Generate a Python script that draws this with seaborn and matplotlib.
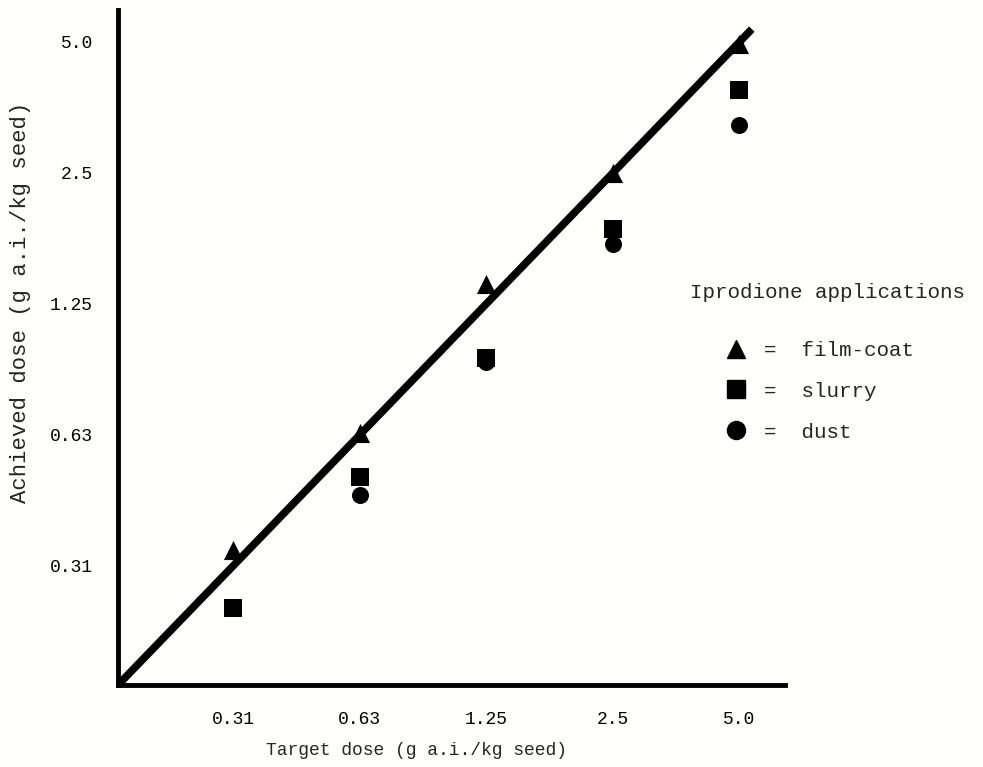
import numpy as np
import pandas as pd
import matplotlib
matplotlib.use('Agg')
import matplotlib.pyplot as plt
from matplotlib.lines import Line2D
from matplotlib.ticker import FixedLocator, NullLocator
import seaborn as sns

# data (g a.i./kg seed)
target = [0.3125, 0.625, 1.25, 2.5, 5.0]
film_coat = [0.34, 0.63, 1.39, 2.5, 4.95]
slurry = [0.25, 0.50, 0.94, 1.86, 3.88]
dust = [np.nan, 0.454, 0.92, 1.72, 3.22]
methods = ['film-coat', 'slurry', 'dust']
tick_labels = ['0.31', '0.63', '1.25', '2.5', '5.0']
# 1:1 line
line_x = [0.1665, 5.35]
line_y = [0.1665, 5.35]

df = pd.DataFrame({
    'target': target * 3,
    'achieved': film_coat + slurry + dust,
    'method': sum([[m] * len(target) for m in methods], []),
}).dropna()

sns.set_style('white')
plt.rcParams['font.family'] = ['Liberation Mono', 'DejaVu Sans']

fig = plt.figure(figsize=(9.83, 7.67), dpi=100, facecolor='#fffffd')
ax = fig.add_axes([0.12, 0.107, 0.679, 0.88])
ax.set_facecolor('#fffffd')

markers = {'film-coat': '^', 'slurry': 's', 'dust': 'o'}
sizes = {'film-coat': 190, 'slurry': 170, 'dust': 150}
for m in methods:
    sub = df[df['method'] == m]
    sns.scatterplot(data=sub, x='target', y='achieved', marker=markers[m],
                    s=sizes[m], color='black', edgecolor='black', linewidth=0,
                    ax=ax, legend=False, zorder=2)
sns.lineplot(x=line_x, y=line_y, color='black', linewidth=5.5, ax=ax,
             zorder=3, solid_capstyle='butt')

ax.set_xscale('log', base=2)
ax.set_yscale('log', base=2)
ax.set_xlim(0.1664, 6.43)
ax.set_ylim(0.1665, 5.92)
for axis in (ax.xaxis, ax.yaxis):
    axis.set_major_locator(FixedLocator(target))
    axis.set_minor_locator(NullLocator())
ax.set_xticklabels(tick_labels)
ax.set_yticklabels(tick_labels)
ax.tick_params(direction='in', length=8, width=3, labelsize=13, pad=19,
               colors='black')
ax.tick_params(axis='y', pad=18)

for s in ['top', 'right']:
    ax.spines[s].set_visible(False)
for s in ['left', 'bottom']:
    ax.spines[s].set_linewidth(3.5)
    ax.spines[s].set_color('black')

ax.set_xlabel('Target dose (g a.i./kg seed)', fontsize=13)
ax.xaxis.set_label_coords(0.448, -0.085)
ax.set_ylabel('Achieved dose (g a.i./kg seed)', fontsize=16)
ax.yaxis.set_label_coords(-0.13, 0.567)

fig.text(0.702, 0.618, 'Iprodione applications', fontsize=15, va='center')
handles = [Line2D([], [], marker=markers[m], color='black', linestyle='none',
                  markersize=13) for m in methods]
fig.legend(handles, ['=  ' + m for m in methods], loc='upper left',
           bbox_to_anchor=(0.719, 0.58), frameon=False, fontsize=15,
           handletextpad=0.85, labelspacing=1.05, handlelength=1.0)

plt.savefig('out.png', dpi=100, facecolor=fig.get_facecolor())
